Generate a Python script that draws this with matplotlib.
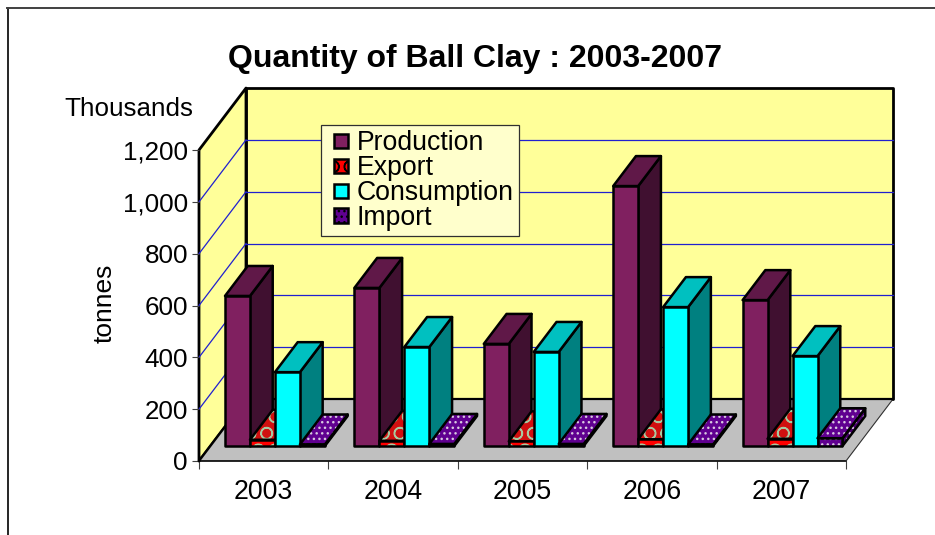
import matplotlib
matplotlib.use("Agg")
import matplotlib.pyplot as plt
from matplotlib.legend_handler import HandlerPatch
from matplotlib.lines import Line2D
from matplotlib.patches import Patch, Polygon, Rectangle

plt.rcParams["font.family"] = ["Liberation Sans", "DejaVu Sans"]
plt.rcParams["hatch.linewidth"] = 1.0

years = ["2003", "2004", "2005", "2006", "2007"]
production = [579, 610, 394, 1003, 563]
export = [24, 20, 18, 26, 28]
consumption = [285, 382, 363, 536, 347]
imports = [6, 8, 8, 6, 30]
y_ticks = [0, 200, 400, 600, 800, 1000, 1200]
y_labels = ["0", "200", "400", "600", "800", "1,000", "1,200"]

W, H = 935, 535
# oblique projection: depth 1 = back wall
DEPTH_X = 47 / 129.4
DEPTH_Y = 239
BAR_FRONT = 0.242
BAR_BACK = 0.726
BAR_W = 0.193
BAR_GAP = 0.113

styles = [
    ("Production", production, "#802060", "#601848", "#401030", None, None),
    ("Export", export, "#ff0000", "#d01010", "#c01010", "O", "#a8c8a0"),
    ("Consumption", consumption, "#00ffff", "#00c0c0", "#008080", None, None),
    ("Import", imports, "#600090", "#600090", "#48006c", "...", "#d8c8e0"),
]


def pr(x, v, d):
    return (x + d * DEPTH_X, v + d * DEPTH_Y)


def face(ax, pts, color, hatch=None, hatch_color=None, lw=1.8, z=3):
    if hatch:
        ax.add_patch(Polygon(pts, facecolor=color, edgecolor=hatch_color, hatch=hatch,
                             lw=0, clip_on=False, zorder=z))
        ax.add_patch(Polygon(pts, fill=False, edgecolor="black", lw=lw, clip_on=False,
                             joinstyle="round", zorder=z))
    else:
        ax.add_patch(Polygon(pts, facecolor=color, edgecolor="black", lw=lw, clip_on=False,
                             joinstyle="round", zorder=z))


def legend_square(legend, orig_handle, xdescent, ydescent, width, height, fontsize):
    return Rectangle((5.5 - xdescent, 1 - ydescent), 10.2, 10.2)


fig = plt.figure(figsize=(W / 100, H / 100), dpi=100, facecolor="white")
ax = fig.add_axes([199 / W, (H - 461) / H, 647 / W, 311 / H])
ax.set_xlim(0, 5)
ax.set_ylim(0, 1200)
ax.patch.set_visible(False)
for s in ax.spines.values():
    s.set_visible(False)

# walls and floor
face(ax, [pr(0, 0, 1), pr(5, 0, 1), pr(5, 1200, 1), pr(0, 1200, 1)], "#ffff99", lw=2, z=1)
face(ax, [pr(0, 0, 0), pr(0, 0, 1), pr(0, 1200, 1), pr(0, 1200, 0)], "#ffff99", lw=2, z=1)
ax.add_patch(Polygon([pr(0, 0, 0), pr(5, 0, 0), pr(5, 0, 1), pr(0, 0, 1)],
                     facecolor="#c0c0c0", edgecolor="none", clip_on=False, zorder=1.5))
ax.plot(*zip(pr(0, 0, 0), pr(5, 0, 0)), color="black", lw=1.2, clip_on=False, zorder=1.6)
ax.plot(*zip(pr(5, 0, 0), pr(5, 0, 1)), color="#303030", lw=0.8, clip_on=False, zorder=1.6)
ax.plot(*zip(pr(0, 0, 0), pr(0, 0, 1)), color="black", lw=1.6, clip_on=False, zorder=1.6)
ax.plot(*zip(pr(0, 0, 1), pr(5, 0, 1)), color="black", lw=1.6, clip_on=False, zorder=1.6)

for v in y_ticks[1:-1]:
    ax.plot(*zip(pr(0, v, 1), pr(5, v, 1)), color="#2020d0", lw=0.9, clip_on=False, zorder=1.4)
for v in y_ticks[1:-1]:
    ax.plot(*zip(pr(0, v, 0), pr(0, v, 1)), color="#2020d0", lw=0.9, clip_on=False, zorder=1.4)

# bars, left to right so nearer faces overlap properly
for i in range(len(years)):
    for k, (name, vals, front, top, side, hatch, hc) in enumerate(styles):
        x0 = i + BAR_GAP + k * BAR_W
        x1 = x0 + BAR_W
        v = vals[i]
        face(ax, [pr(x1, 0, BAR_FRONT), pr(x1, 0, BAR_BACK), pr(x1, v, BAR_BACK), pr(x1, v, BAR_FRONT)],
             side, hatch, hc, z=3 + i + k * 0.1)
        face(ax, [pr(x0, v, BAR_FRONT), pr(x1, v, BAR_FRONT), pr(x1, v, BAR_BACK), pr(x0, v, BAR_BACK)],
             top, hatch, hc, z=3 + i + k * 0.1)
        face(ax, [pr(x0, 0, BAR_FRONT), pr(x1, 0, BAR_FRONT), pr(x1, v, BAR_FRONT), pr(x0, v, BAR_FRONT)],
             front, hatch, hc, z=3 + i + k * 0.1)

ax.set_yticks(y_ticks)
ax.set_yticklabels(y_labels, fontsize=18.7)
ax.set_xticks(range(6))
ax.set_xticklabels([])
ax.set_xticks([i + 0.5 for i in range(5)], minor=True)
ax.set_xticklabels(years, minor=True, fontsize=19.2)
ax.tick_params(axis="y", length=5, width=0.8, color="#404040", pad=3)
ax.tick_params(axis="x", which="major", length=5.5, width=0.8, color="#404040")
ax.tick_params(axis="x", which="minor", length=0, pad=13)

fig.text(475.5 / W, 1 - 59.5 / H, "Quantity of Ball Clay : 2003-2007", fontsize=23, fontweight="bold",
         ha="center", va="center")
fig.text(193 / W, 1 - 108.5 / H, "Thousands", fontsize=18.7, ha="right", va="center")
fig.text(105 / W, 1 - 303 / H, "tonnes", fontsize=19, rotation=90, ha="center", va="center")

handles = [Patch(facecolor=s[2], edgecolor="black", lw=1.8) for s in styles]
for h, s in zip(handles, styles):
    if s[5]:
        h.set_hatch(s[5])
leg = ax.legend(handles, [s[0] for s in styles], loc="upper left",
                bbox_to_anchor=(321 / W, 1 - 125 / H), bbox_transform=fig.transFigure,
                fontsize=19.2, frameon=True, fancybox=False, framealpha=1,
                facecolor="#ffffcc", edgecolor="#303030",
                handlelength=0.95, handleheight=0.62, handletextpad=0.19,
                labelspacing=-0.045, borderpad=0.2, borderaxespad=0,
                handler_map={Patch: HandlerPatch(patch_func=legend_square)})
leg.get_frame().set_linewidth(0.9)
leg.set_zorder(20)

# chart area border, only top and left fall inside the crop
fig.add_artist(Line2D([7.5 / W, 7.5 / W], [0, 1 - 8 / H], color="black", lw=1.2))
fig.add_artist(Line2D([7 / W, 1], [1 - 8 / H, 1 - 8 / H], color="#404040", lw=1.4))

fig.savefig("out.png", dpi=100)
